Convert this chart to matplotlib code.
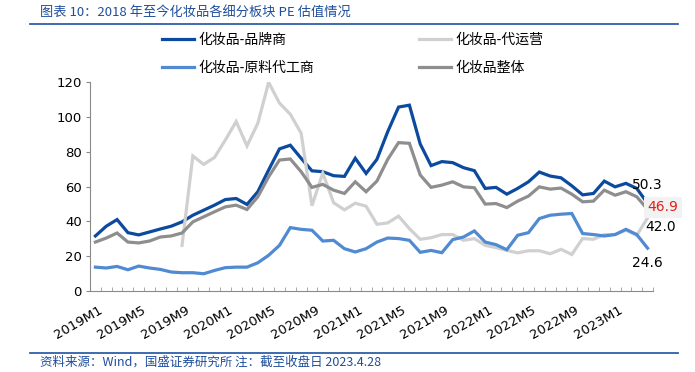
import numpy as np
import matplotlib
matplotlib.use('Agg')
from matplotlib import pyplot as plt
from matplotlib.lines import Line2D
from matplotlib.transforms import ScaledTranslation

plt.rcParams['font.family'] = ['Noto Sans CJK SC', 'DejaVu Sans']
plt.rcParams['axes.unicode_minus'] = False

# monthly PE, 2019M1 .. 2023M4
months = ['2019M1', '2019M5', '2019M9', '2020M1', '2020M5', '2020M9', '2021M1',
          '2021M5', '2021M9', '2022M1', '2022M5', '2022M9', '2023M1']

brand = [31.6, 37.2, 41.0, 33.5, 32.2, 33.9, 35.6, 37.2, 39.7, 43.5,
         46.4, 49.3, 52.5, 53.1, 49.7, 57.0, 69.5, 81.6, 83.7, 76.2,
         69.0, 68.5, 66.2, 65.8, 76.2, 67.5, 75.6, 91.5, 105.6, 106.7,
         84.4, 72.0, 74.3, 73.7, 70.8, 69.1, 58.9, 59.5, 55.6, 58.9,
         62.7, 68.3, 66.0, 65.0, 60.4, 55.2, 56.0, 63.1, 59.8, 61.8,
         58.9, 50.3]

agency = [np.nan] * 8 + [
    26.2, 77.5, 72.7, 76.7, 86.7, 97.3, 83.3, 96.3, 119.8, 107.9,
    101.5, 90.6, 49.0, 67.7, 50.7, 46.6, 50.4, 48.7, 38.3, 39.1,
    43.0, 35.8, 29.7, 30.6, 32.4, 32.4, 29.1, 30.1, 26.2, 24.9,
    23.3, 21.9, 23.1, 23.1, 21.4, 23.9, 21.0, 30.1, 29.7, 32.4,
    32.4, 34.9, 32.0, 42.0]

raw = [13.7, 13.2, 14.1, 12.2, 14.3, 13.2, 12.4, 10.9, 10.5, 10.5,
       9.9, 11.8, 13.4, 13.7, 13.7, 16.2, 20.5, 26.2, 36.4, 35.4,
       34.9, 28.7, 29.1, 24.3, 22.4, 24.3, 28.1, 30.4, 30.1, 29.1,
       22.2, 23.3, 22.0, 29.5, 31.0, 34.5, 28.1, 26.6, 23.7, 32.0,
       33.5, 41.6, 43.5, 44.1, 44.5, 33.0, 32.4, 31.6, 32.4, 35.4,
       32.4, 24.6]

total = [28.1, 30.4, 33.3, 28.1, 27.6, 28.7, 31.0, 31.6, 33.3, 39.7,
         42.6, 45.5, 48.3, 49.3, 46.8, 54.1, 65.6, 75.2, 75.8, 68.5,
         59.5, 61.2, 57.9, 56.0, 62.7, 57.0, 63.1, 75.6, 85.2, 84.8,
         66.6, 59.5, 60.8, 62.7, 59.8, 59.3, 49.9, 50.2, 47.9, 51.6,
         54.5, 59.8, 58.5, 59.1, 55.6, 51.2, 51.6, 57.9, 55.0, 57.0,
         54.1, 46.9]

names = ['化妆品-品牌商', '化妆品-代运营', '化妆品-原料代工商', '化妆品整体']
colors = ['#0b4a9e', '#d0d0d0', '#508ad2', '#8e8e8e']

W, H = 695, 372
fig = plt.figure(figsize=(W / 100, H / 100), dpi=100)
ax = fig.add_axes([90 / W, 81 / H, 563 / W, 209 / H])

x = np.arange(len(brand))
lines = []
for s, name, c in zip([brand, agency, raw, total], names, colors):
    ln, = ax.plot(x, s, color=c, lw=2.3, label=name, solid_joinstyle='miter')
    lines.append(ln)

ax.set_xlim(-0.5, len(brand) - 0.5)
ax.set_ylim(0, 120)
ax.set_yticks(range(0, 121, 20))
ax.tick_params(axis='y', direction='out', length=3, width=0.8, color='#8a8a8a',
               labelsize=9.5, pad=3)

# labels every 4 months, tick marks on category boundaries
ax.set_xticks(np.arange(0, len(brand), 4))
ax.set_xticklabels(months, rotation=30, ha='right', va='top',
                   rotation_mode='anchor', fontsize=9.5, family='DejaVu Sans')
ax.tick_params(axis='x', which='major', length=0, pad=9)
ax.set_xticks(np.arange(-0.5, len(brand), 1), minor=True)
ax.tick_params(axis='x', which='minor', direction='in', length=3, width=0.6,
               color='#9a9a9a')
off = ScaledTranslation(0.03, 0, fig.dpi_scale_trans)
for lab in ax.get_xticklabels():
    lab.set_transform(lab.get_transform() + off)
for lab in ax.get_yticklabels():
    lab.set_family('DejaVu Sans')

for side in ['top', 'right']:
    ax.spines[side].set_visible(False)
for side in ['left', 'bottom']:
    ax.spines[side].set_color('#8a8a8a')
    ax.spines[side].set_linewidth(0.8)

# end-point labels
last = len(brand) - 1
ax.annotate('50.3', (last, brand[-1]), xytext=(0, 13), textcoords='offset points',
            ha='center', va='center', fontsize=10, family='DejaVu Sans')
ax.annotate('46.9', (last, total[-1]), xytext=(11, 1.5), textcoords='offset points',
            ha='center', va='center', fontsize=10, color='#e0201b', family='DejaVu Sans',
            bbox=dict(boxstyle='square,pad=0.25', fc='#f2f2f2', ec='none'))
ax.annotate('42.0', (last, agency[-1]), xytext=(9.5, -6.5), textcoords='offset points',
            ha='center', va='center', fontsize=10, family='DejaVu Sans')
ax.annotate('24.6', (last, raw[-1]), xytext=(0, -11), textcoords='offset points',
            ha='center', va='center', fontsize=10, family='DejaVu Sans')

handles = [lines[0], lines[2], lines[1], lines[3]]
fig.legend(handles, [h.get_label() for h in handles], ncol=2,
           loc='upper left', bbox_to_anchor=(162 / W, 1 - 33 / H),
           frameon=False, fontsize=10, handlelength=2.3, handletextpad=0.3,
           columnspacing=7.6, labelspacing=1.0, borderpad=0, borderaxespad=0)

# header / footer
blue = '#1f4e9c'
fig.text(40 / W, 1 - 12 / H, '图表 10：2018 年至今化妆品各细分板块 PE 估值情况',
         fontsize=9.5, color=blue, va='center', ha='left')
fig.add_artist(Line2D([30 / W, 678 / W], [1 - 24 / H] * 2, color='#2f5fa8', lw=1.3))
fig.add_artist(Line2D([30 / W, 678 / W], [1 - 353 / H] * 2, color='#2f5fa8', lw=1.3))
fig.text(40 / W, 1 - 362 / H, '资料来源：Wind，国盛证券研究所 注：截至收盘日 2023.4.28',
         fontsize=9, color=blue, va='center', ha='left')

fig.savefig('out.png', dpi=100)
